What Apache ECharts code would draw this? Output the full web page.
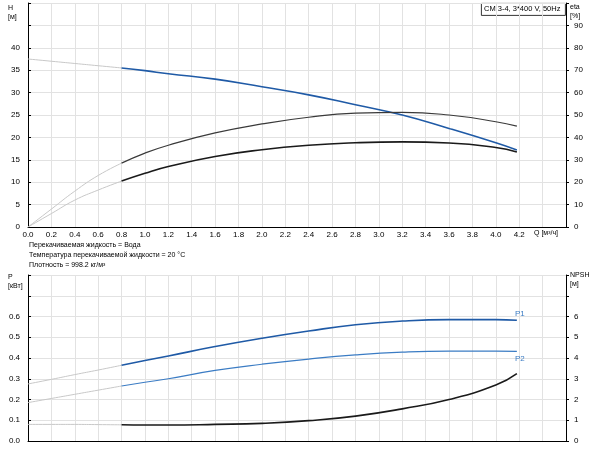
<!DOCTYPE html>
<html lang="ru">
<head>
  <meta charset="UTF-8">
  <title>CM 3-4</title>
  <style>
    body { margin: 0; }
    #chart { width: 600px; height: 450px; background-color: white; }
  </style>
</head>
<body>
<div id="chart"></div>
<script src="https://cdn.jsdelivr.net/npm/echarts@6/dist/echarts.min.js"></script>
<script>
  // подача, м³/ч
  const q = [0, 0.2, 0.4, 0.6, 0.8, 1.0, 1.2, 1.6, 2.0, 2.4, 2.8, 3.2, 3.6, 4.0, 4.18];
  // напор, м
  const head = [37.5, 37.0, 36.5, 36.0, 35.5, 34.9, 34.2, 33.0, 31.3, 29.5, 27.3, 25.0, 22.0, 18.8, 17.2];
  // КПД, %
  const etaPump = [0, 8, 16, 23, 28.5, 33, 36.5, 42, 46, 49, 50.8, 51.2, 50, 47, 45];
  const etaTotal = [0, 6, 12, 16.5, 20.5, 24, 27, 31.5, 34.5, 36.5, 37.6, 38, 37.5, 35.5, 33.5];
  // мощность, кВт
  const p1 = [0.275, 0.297, 0.32, 0.342, 0.365, 0.388, 0.41, 0.455, 0.495, 0.53, 0.56, 0.578, 0.585, 0.585, 0.582];
  const p2 = [0.185, 0.205, 0.225, 0.245, 0.265, 0.283, 0.3, 0.34, 0.37, 0.395, 0.415, 0.428, 0.433, 0.433, 0.432];
  // NPSH, м
  const npsh = [0.8, 0.8, 0.8, 0.79, 0.78, 0.77, 0.77, 0.8, 0.85, 0.98, 1.2, 1.55, 2.0, 2.7, 3.25];

  const CUT = 4; // индекс Q = 0.8
  const pts = v => q.map((x, i) => [x, v[i]]);
  function curve(v, color, width, xi, yi, extra) {
    const all = pts(v);
    return [
      { type: 'line', xAxisIndex: xi, yAxisIndex: yi, data: all.slice(0, CUT + 1), smooth: true, symbol: 'none',
        lineStyle: { color: '#c8c8c8', width: 1 }, silent: true },
      Object.assign({ type: 'line', xAxisIndex: xi, yAxisIndex: yi, data: all.slice(CUT), smooth: true, symbol: 'none',
        lineStyle: { color: color, width: width }, silent: true }, extra || {})
    ];
  }

  const chart = echarts.init(document.getElementById('chart'));
  const lbl = { fontSize: 8, color: '#000', fontFamily: 'Liberation Sans' };
  const grid = { show: true, lineStyle: { color: '#e2e2e2' } };
  const axLine = { show: true, lineStyle: { color: '#000' } };
  const xBase = { type: 'value', min: 0, max: 4.6, interval: 0.2, splitLine: grid, axisLine: axLine, axisTick: { show: false } };

  chart.setOption({
    animation: false,
    grid: [
      { left: 28, right: 34, top: 3, height: 224 },
      { left: 28, right: 34, top: 275, height: 166 }
    ],
    xAxis: [
      Object.assign({}, xBase, { gridIndex: 0, axisLabel: Object.assign({}, lbl, {
        formatter: v => v > 4.21 ? '' : v.toFixed(1), margin: 4 }) }),
      Object.assign({}, xBase, { gridIndex: 1, axisLabel: { show: false } })
    ],
    yAxis: [
      { type: 'value', gridIndex: 0, min: 0, max: 50, interval: 5, splitLine: grid, axisLine: axLine,
        axisTick: { show: true, length: 3, inside: true }, axisLabel: Object.assign({}, lbl, { formatter: v => v > 40 ? '' : v }) },
      { type: 'value', gridIndex: 0, position: 'right', min: 0, max: 100, interval: 10, splitLine: { show: false }, axisLine: axLine,
        axisTick: { show: true, length: 3 }, axisLabel: Object.assign({}, lbl, { formatter: v => v > 90 ? '' : v }) },
      { type: 'value', gridIndex: 1, min: 0, max: 0.8, interval: 0.1, splitLine: grid, axisLine: axLine,
        axisTick: { show: true, length: 3, inside: true }, axisLabel: Object.assign({}, lbl, { formatter: v => v > 0.61 ? '' : v.toFixed(1) }) },
      { type: 'value', gridIndex: 1, position: 'right', min: 0, max: 8, interval: 1, splitLine: { show: false }, axisLine: axLine,
        axisTick: { show: true, length: 3 }, axisLabel: Object.assign({}, lbl, { formatter: v => v > 6 ? '' : v }) }
    ],
    series: [].concat(
      curve(head, '#1f5aa6', 1.6, 0, 0),
      curve(etaPump, '#3a3a3a', 1.2, 0, 1),
      curve(etaTotal, '#1a1a1a', 1.6, 0, 1),
      curve(p1, '#1f5aa6', 1.6, 1, 2, { endLabel: { show: true, formatter: 'P1', color: '#3b7cc4', fontSize: 8, offset: [-10, -6] } }),
      curve(p2, '#3b7cc4', 1.2, 1, 2, { endLabel: { show: true, formatter: 'P2', color: '#3b7cc4', fontSize: 8, offset: [-10, 7] } }),
      curve(npsh, '#1a1a1a', 1.6, 1, 3)
    ),
    graphic: [
      { type: 'text', left: 8, top: 4, style: { text: 'H\n[м]', fontSize: 7, lineHeight: 9, fill: '#000' } },
      { type: 'text', left: 570, top: 3, style: { text: 'eta\n[%]', fontSize: 7, lineHeight: 9, fill: '#000' } },
      { type: 'rect', left: 481, top: 3, shape: { width: 84, height: 12 }, style: { fill: '#fff', stroke: '#000', lineWidth: 0.8 } },
      { type: 'text', left: 484, top: 5, style: { text: 'CM 3-4, 3*400 V, 50Hz', fontSize: 7.5, fill: '#000' } },
      { type: 'text', left: 534, top: 230, style: { text: 'Q [м³/ч]', fontSize: 7, fill: '#000' } },
      { type: 'text', left: 29, top: 240, style: { text: 'Перекачиваемая жидкость = Вода\nТемпература перекачиваемой жидкости = 20 °C\nПлотность = 998.2 кг/м³', fontSize: 7, lineHeight: 10, fill: '#000' } },
      { type: 'text', left: 8, top: 273, style: { text: 'P\n[кВт]', fontSize: 7, lineHeight: 9, fill: '#000' } },
      { type: 'text', left: 570, top: 271, style: { text: 'NPSH\n[м]', fontSize: 7, lineHeight: 9, fill: '#000' } }
    ]
  });
</script>
</body>
</html>
